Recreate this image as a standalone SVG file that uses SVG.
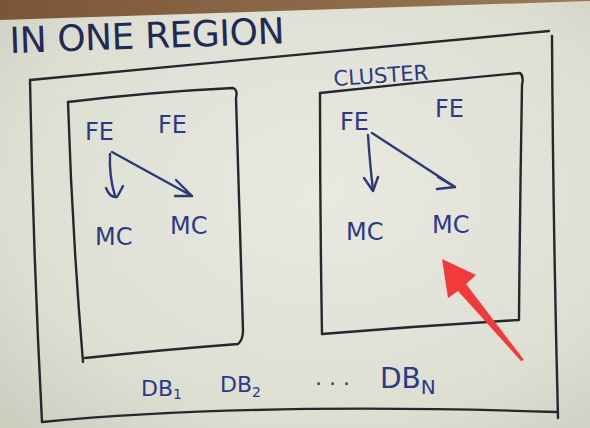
<svg xmlns="http://www.w3.org/2000/svg" width="590" height="428" viewBox="0 0 590 428">
<defs>
<radialGradient id="paper" cx="0.55" cy="0.45" r="0.75">
<stop offset="0" stop-color="#e9e9e0"/>
<stop offset="0.7" stop-color="#dedfd3"/>
<stop offset="1" stop-color="#cdcdc0"/>
</radialGradient>
<linearGradient id="wood" x1="0" y1="0" x2="1" y2="0">
<stop offset="0" stop-color="#7b5636"/>
<stop offset="1" stop-color="#9a7a58"/>
</linearGradient>
<style>
.ink{fill:none;stroke:#26272e;stroke-width:2.4;stroke-linecap:round;stroke-linejoin:round}
.blue{fill:none;stroke:#2c3a78;stroke-width:2.4;stroke-linecap:round;stroke-linejoin:round}
.t{font-family:"DejaVu Sans","Liberation Sans",sans-serif;fill:#2a3a86}
.lbl{font-size:24px}
.title{font-family:"DejaVu Sans","Liberation Sans",sans-serif;fill:#1f2a55;font-size:36px}
</style>
</defs>
<rect x="0" y="0" width="590" height="428" fill="url(#wood)"/>
<path d="M0,20 L590,1 L590,428 L0,428 Z" fill="url(#paper)"/>

<g id="title"><text class="title" x="10" y="53" textLength="275" lengthAdjust="spacing" transform="rotate(-2 10 53)">IN ONE REGION</text></g>

<g id="region">
<path class="ink" d="M30,80 L549,31"/>
<path class="ink" d="M552,36 Q553,220 558,418"/>
<path class="ink" d="M30,80 Q33,250 42,422"/>
<path class="ink" d="M42,422 Q250,402 557,412"/>
</g>

<g id="cluster-left">
<path class="ink" d="M68,102 Q150,92 233,88 Q238,90 236,98 Q240,220 243,330 Q243,340 238,344 Q160,350 85,358"/>
<path class="ink" d="M68,102 Q72,230 83,362"/>
<text class="t lbl" x="85" y="140">FE</text>
<text class="t lbl" x="158" y="133">FE</text>
<text class="t lbl" x="95" y="245">MC</text>
<text class="t lbl" x="170" y="234">MC</text>
</g>

<g id="cluster-right">
<text class="t" x="334" y="86" font-size="21" transform="rotate(-4 334 86)">CLUSTER</text>
<path class="ink" d="M320,93 Q420,82 520,73 Q524,76 522,85 Q520,200 519,320 Q420,326 322,334"/>
<path class="ink" d="M320,93 Q320,215 322,334"/>
<text class="t lbl" x="340" y="130">FE</text>
<text class="t lbl" x="435" y="117">FE</text>
<text class="t lbl" x="346" y="240">MC</text>
<text class="t lbl" x="432" y="233">MC</text>
</g>

<g id="connectors">
<path class="blue" d="M110,154 Q109,176 115,196"/>
<path class="blue" d="M106,188 Q110,198 117,197 Q120,192 123,186"/>
<path class="blue" d="M112,152 L192,196"/>
<path class="blue" d="M176,180 L192,196 L175,196"/>
<path class="blue" d="M368,135 Q370,165 373,190"/>
<path class="blue" d="M364,178 L373,191 L378,177"/>
<path class="blue" d="M372,133 L455,187"/>
<path class="blue" d="M438,177 L455,187 L437,189"/>
</g>

<g id="databases">
<text class="t" x="141" y="396" font-size="22">DB<tspan font-size="14" dy="3">1</tspan></text>
<text class="t" x="220" y="392" font-size="22">DB<tspan font-size="14" dy="5">2</tspan></text>
<text class="t" x="315" y="385" font-size="22">. . .</text>
<text class="t" x="380" y="388" font-size="28">DB<tspan font-size="20" dy="6">N</tspan></text>
</g>

<g id="pointer">
<path d="M442,259 L476,275 L466,284 L524,360 L521,361 L458,291 L448,298 Z" fill="#f23a3a"/>
</g>
</svg>
